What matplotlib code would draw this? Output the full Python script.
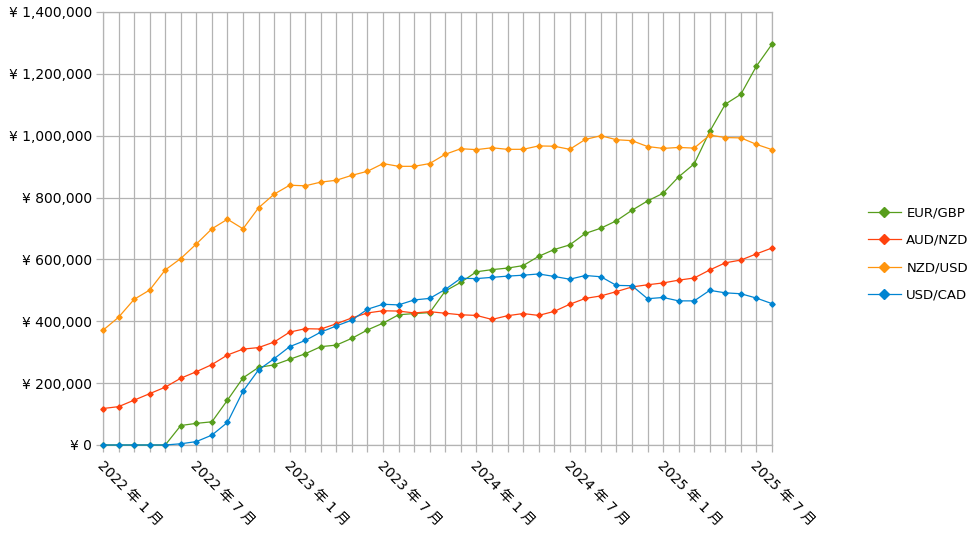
import matplotlib
matplotlib.use("Agg")
import matplotlib.pyplot as plt
from matplotlib.ticker import FuncFormatter, MultipleLocator

plt.rcParams["font.family"] = ["DejaVu Sans", "Noto Sans CJK JP"]

# monthly values, 2022-01 .. 2025-08
eur_gbp = [0, 0, 0, 0, 0, 63000, 70000, 75000, 145000, 217000, 251000, 259000,
           277000, 295000, 318000, 323000, 345000, 372000, 394000, 421000, 425000, 428000,
           498000, 526000, 560000, 567000, 572000, 580000, 610000, 632000, 647000, 684000,
           701000, 725000, 759000, 789000, 814000, 867000, 909000, 1014000, 1102000, 1134000,
           1225000, 1296000]
aud_nzd = [118000, 124000, 145000, 166000, 187000, 216000, 237000, 260000, 291000, 310000,
           315000, 333000, 365000, 376000, 375000, 392000, 411000, 427000, 434000, 433000,
           427000, 431000, 426000, 421000, 419000, 406000, 418000, 425000, 419000, 432000,
           455000, 474000, 482000, 496000, 511000, 518000, 524000, 533000, 540000, 566000,
           589000, 598000, 618000, 637000]
nzd_usd = [371000, 413000, 471000, 501000, 566000, 603000, 650000, 699000, 730000, 699000,
           767000, 811000, 840000, 838000, 850000, 856000, 872000, 885000, 910000, 901000,
           901000, 910000, 940000, 958000, 955000, 961000, 956000, 956000, 967000, 966000,
           956000, 988000, 1000000, 987000, 984000, 965000, 959000, 962000, 960000, 1002000,
           994000, 993000, 972000, 955000]
usd_cad = [0, 0, 0, 0, 0, 4000, 11000, 32000, 73000, 174000, 243000, 279000, 318000,
           338000, 365000, 385000, 404000, 439000, 455000, 453000, 469000, 474000, 503000,
           539000, 538000, 542000, 546000, 549000, 553000, 545000, 536000, 548000, 544000,
           516000, 515000, 473000, 477000, 466000, 466000, 500000, 492000, 489000, 475000,
           457000]

series_names = ["EUR/GBP", "AUD/NZD", "NZD/USD", "USD/CAD"]
series_values = [eur_gbp, aud_nzd, nzd_usd, usd_cad]
colors = ["#579d1c", "#ff420e", "#ff950e", "#0084d1"]

x_label_months = [0, 6, 12, 18, 24, 30, 36, 42]
x_labels = ["2022 年 1 月", "2022 年 7 月", "2023 年 1 月", "2023 年 7 月",
            "2024 年 1 月", "2024 年 7 月", "2025 年 1 月", "2025 年 7 月"]

fig = plt.figure(figsize=(9.8, 5.35), dpi=100)
ax = fig.add_axes([103 / 980, 1 - 445 / 535, (772 - 103) / 980, (445 - 12) / 535])

months = list(range(len(eur_gbp)))
for name, vals, c in zip(series_names, series_values, colors):
    ax.plot(months, vals, color=c, lw=0.9, marker="D", markersize=2.7,
            label=name, clip_on=False, zorder=3)

ax.set_xlim(0, len(months) - 1)
ax.set_ylim(0, 1400000)
ax.yaxis.set_major_locator(MultipleLocator(200000))
ax.yaxis.set_major_formatter(FuncFormatter(lambda v, p: f"¥ {v:,.0f}"))

ax.set_xticks(months)
ax.set_xticklabels(["" for m in months])
for m, lab in zip(x_label_months, x_labels):
    ax.text(m + 0.1, -42000, lab, rotation=-45, rotation_mode="anchor",
            ha="left", va="top", fontsize=10, color="#000000")

ax.grid(True, color="#b3b3b3", lw=0.9)
ax.set_axisbelow(True)
for s in ax.spines.values():
    s.set_color("#b3b3b3")
    s.set_linewidth(0.9)
ax.tick_params(axis="both", color="#b3b3b3", length=5, width=0.9,
               labelsize=10, labelcolor="#000000", pad=3)

fig.legend(loc="center left", bbox_to_anchor=(868 / 980, 1 - 254 / 535),
           frameon=False, fontsize=9.5, handlelength=2.5, handletextpad=0.4,
           labelspacing=1.1, borderpad=0, borderaxespad=0, markerscale=1.8)

fig.savefig("out.png", dpi=100)
